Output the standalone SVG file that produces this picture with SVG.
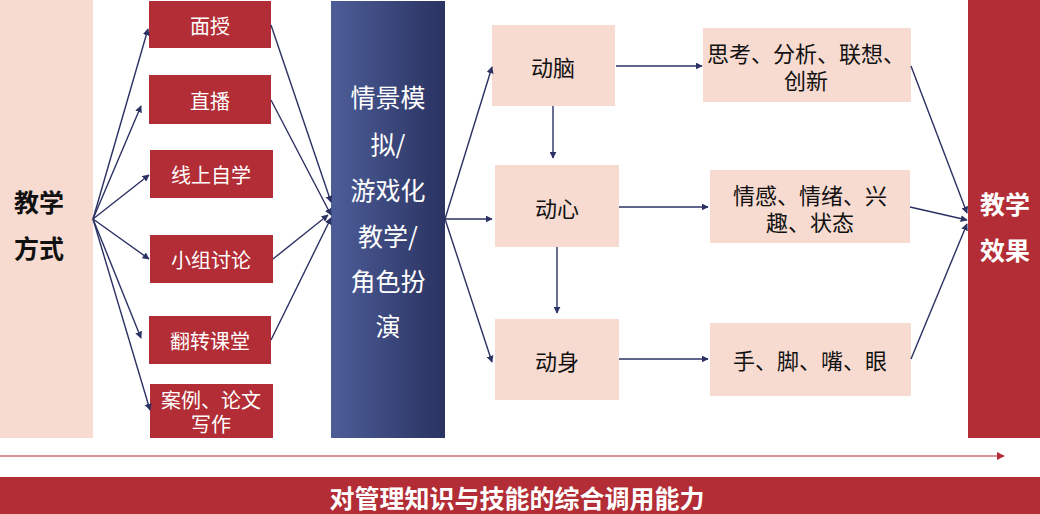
<svg xmlns="http://www.w3.org/2000/svg" width="1040" height="514" viewBox="0 0 1040 514">
<style>
.peach{fill:#f7dbd0}
.red{fill:#b22d35}
.wt{fill:#fff;font-family:"Noto Sans CJK SC","Noto Sans",sans-serif;text-anchor:middle;dominant-baseline:central}
.bt{fill:#111;font-family:"Noto Sans CJK SC","Noto Sans",sans-serif;text-anchor:middle;dominant-baseline:central}
.c{stroke:#2b3163;stroke-width:1.4;fill:none;marker-end:url(#ah)}
</style>
<defs>
<marker id="ah" viewBox="0 0 10 10" refX="9" refY="5" markerWidth="7" markerHeight="7" markerUnits="userSpaceOnUse" orient="auto"><path d="M0,0L10,5L0,10z" fill="#2b3163"/></marker>
<marker id="rah" viewBox="0 0 10 10" refX="9" refY="5" markerWidth="8" markerHeight="8" markerUnits="userSpaceOnUse" orient="auto"><path d="M0,0L10,5L0,10z" fill="#b22d35"/></marker>
<linearGradient id="bg" x1="0" y1="0" x2="1" y2="0"><stop offset="0" stop-color="#4d5d98"/><stop offset="1" stop-color="#2a3361"/></linearGradient>
</defs>
<g id="jiaoxuefangshi"><rect class="peach" x="0" y="0" width="93" height="438"/><text class="bt" x="39" y="201" font-size="25" font-weight="bold">教学</text><text class="bt" x="39" y="247" font-size="25" font-weight="bold">方式</text></g>
<g id="mianshou"><rect class="red" x="149" y="1" width="122" height="47"/><text class="wt" x="210" y="25" font-size="20">面授</text></g>
<g id="zhibo"><rect class="red" x="149" y="75" width="122" height="49"/><text class="wt" x="210" y="100" font-size="20">直播</text></g>
<g id="xianshang"><rect class="red" x="150" y="150" width="123" height="48"/><text class="wt" x="211" y="174" font-size="20">线上自学</text></g>
<g id="xiaozu"><rect class="red" x="150" y="235" width="123" height="48"/><text class="wt" x="211" y="259" font-size="20">小组讨论</text></g>
<g id="fanzhuan"><rect class="red" x="149" y="316" width="122" height="48"/><text class="wt" x="210" y="340" font-size="20">翻转课堂</text></g>
<g id="anli"><rect class="red" x="150" y="384" width="123" height="54"/><text class="wt" x="211" y="399" font-size="20">案例、论文</text><text class="wt" x="211" y="423" font-size="20">写作</text></g>
<g id="qingjing"><rect x="331" y="1" width="114" height="437" fill="url(#bg)"/>
<text class="wt" x="388" y="96" font-size="25">情景模</text><text class="wt" x="388" y="143" font-size="25">拟/</text><text class="wt" x="388" y="189" font-size="25">游戏化</text><text class="wt" x="388" y="235" font-size="25">教学/</text><text class="wt" x="388" y="280" font-size="25">角色扮</text><text class="wt" x="388" y="325" font-size="25">演</text></g>
<g id="dongnao"><rect class="peach" x="492" y="25" width="123" height="81"/><text class="bt" x="553" y="66" font-size="22">动脑</text></g>
<g id="dongxin"><rect class="peach" x="495" y="165" width="124" height="82"/><text class="bt" x="557" y="207" font-size="22">动心</text></g>
<g id="dongshen"><rect class="peach" x="495" y="319" width="124" height="81"/><text class="bt" x="557" y="360" font-size="22">动身</text></g>
<g id="sikao"><rect class="peach" x="703" y="28" width="208" height="74"/><text class="bt" x="806" y="52" font-size="22">思考、分析、联想、</text><text class="bt" x="806" y="79" font-size="22">创新</text></g>
<g id="qinggan"><rect class="peach" x="710" y="170" width="200" height="73"/><text class="bt" x="810" y="194" font-size="22">情感、情绪、兴</text><text class="bt" x="810" y="221" font-size="22">趣、状态</text></g>
<g id="shoujiao"><rect class="peach" x="710" y="323" width="201" height="73"/><text class="bt" x="810" y="359" font-size="22">手、脚、嘴、眼</text></g>
<g id="xiaoguo"><rect class="red" x="968" y="0" width="72" height="438"/><text class="wt" x="1005" y="203" font-size="25" font-weight="bold">教学</text><text class="wt" x="1005" y="249" font-size="25" font-weight="bold">效果</text></g>
<g id="bottom"><rect class="red" x="0" y="477" width="1040" height="37"/><text class="wt" x="517" y="497" font-size="25" font-weight="bold">对管理知识与技能的综合调用能力</text></g>
<g id="connectors">
<path class="c" d="M93,219L148,29"/>
<path class="c" d="M93,219L141,106"/>
<path class="c" d="M93,219L149,175"/>
<path class="c" d="M93,219L149,259"/>
<path class="c" d="M93,219L141,338"/>
<path class="c" d="M93,219L150,410"/>
<path class="c" d="M271,25L331,202"/>
<path class="c" d="M271,100L331,215"/>
<path class="c" d="M273,259L328,215"/>
<path class="c" d="M271,340L331,218"/>
<path class="c" d="M445,219L492,67"/>
<path class="c" d="M445,219L492,219"/>
<path class="c" d="M445,219L492,362"/>
<path class="c" d="M553,106L553,158"/>
<path class="c" d="M557,247L557,313"/>
<path class="c" d="M616,66L702,66"/>
<path class="c" d="M619,207L708,207"/>
<path class="c" d="M619,359L708,359"/>
<path class="c" d="M911,66L967,213"/>
<path class="c" d="M910,207L967,220"/>
<path class="c" d="M911,359L967,224"/>
<path d="M0,456L1004,456" stroke="#b22d35" stroke-width="1.2" fill="none" marker-end="url(#rah)"/>
</g>
</svg>
